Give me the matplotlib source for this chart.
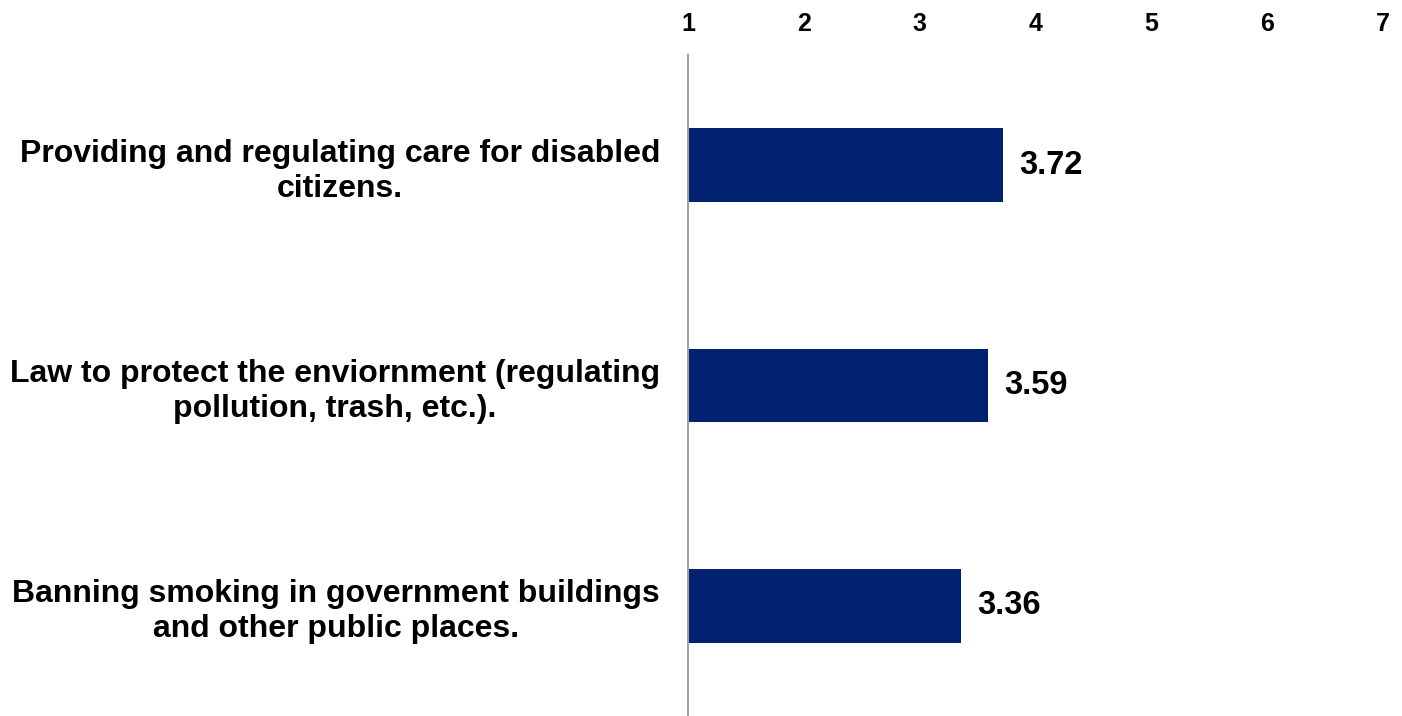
import matplotlib
matplotlib.use("Agg")
import matplotlib.pyplot as plt

categories = [
    "Providing and regulating care for disabled\ncitizens.",
    "Law to protect the enviornment (regulating\npollution, trash, etc.).",
    "Banning smoking in government buildings\nand other public places.",
]
values = [3.72, 3.59, 3.36]
ticks = [1, 2, 3, 4, 5, 6, 7]

BAR_COLOR = "#002270"

plt.rcParams["font.family"] = ["Liberation Sans", "DejaVu Sans"]
plt.rcParams["font.weight"] = "bold"

fig = plt.figure(figsize=(14.02, 7.16), dpi=100)
ax = fig.add_axes([0.4907, 0.0, 0.4957, 0.9232])

ypos = list(range(len(categories)))
base = ticks[0]
ax.barh(ypos, [v - base for v in values], left=base, height=0.335,
        color=BAR_COLOR, edgecolor="none")

# value labels to the right of each bar
for y, v in zip(ypos, values):
    ax.text(v + 0.14, y, f"{v:.2f}", va="center", ha="left",
            fontsize=23.5, fontweight="bold", color="black")

ax.set_xlim(ticks[0], ticks[-1])
ax.set_ylim(2.5, -0.5)
ax.set_xticks(ticks)
ax.xaxis.tick_top()
ax.tick_params(axis="x", length=0, pad=14, labelsize=18)
for lbl in ax.get_xticklabels():
    lbl.set_fontweight("bold")

ax.set_yticks(ypos)
ax.set_yticklabels(categories, fontsize=23, fontweight="bold",
                   ha="right", multialignment="center", linespacing=1.22)
ax.tick_params(axis="y", length=0, pad=20)

for side in ["top", "right", "bottom"]:
    ax.spines[side].set_visible(False)
ax.spines["left"].set_color("#a0a0a0")
ax.spines["left"].set_linewidth(1.5)

fig.savefig("out.png", dpi=100)
